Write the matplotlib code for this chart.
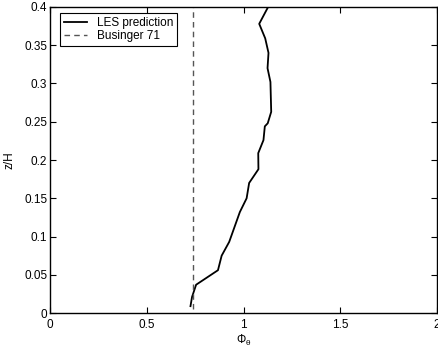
import numpy as np
import matplotlib.pyplot as plt

plt.rcParams['font.family'] = ['Liberation Sans', 'DejaVu Sans']
plt.rcParams['mathtext.fontset'] = 'custom'
plt.rcParams['mathtext.rm'] = 'Liberation Sans'
plt.rcParams['mathtext.it'] = 'Liberation Sans'

# LES profile
z_les = [0.009, 0.021, 0.037, 0.056, 0.075, 0.093, 0.132, 0.150, 0.170, 0.188,
         0.209, 0.226, 0.244, 0.248, 0.263, 0.302, 0.320, 0.340, 0.359, 0.378, 0.400]
phi_les = [0.726, 0.734, 0.755, 0.868, 0.887, 0.926, 0.981, 1.016, 1.029, 1.077,
           1.076, 1.103, 1.110, 1.125, 1.143, 1.139, 1.124, 1.129, 1.112, 1.081, 1.127]

# Businger 71 constant
phi_bus = 0.74
z_bus = [0.005, 0.4]

xticks = [0, 0.5, 1, 1.5, 2]
yticks = [0, 0.05, 0.1, 0.15, 0.2, 0.25, 0.3, 0.35, 0.4]

fig = plt.figure(figsize=(4.38, 3.49), dpi=100)
ax = fig.add_axes([0.114, 0.103, 0.884, 0.877])

ax.plot(phi_les, z_les, color='black', linewidth=1.3, label='LES prediction')
ax.plot([phi_bus, phi_bus], z_bus, color='#555555', linestyle='--', dashes=(4, 3),
        linewidth=1.0, label='Businger 71')

ax.set_xlim(0, 2)
ax.set_ylim(0, 0.4)
ax.set_xticks(xticks)
ax.set_xticklabels(['0', '0.5', '1', '1.5', '2'])
ax.set_yticks(yticks)
ax.set_yticklabels(['0', '0.05', '0.1', '0.15', '0.2', '0.25', '0.3', '0.35', '0.4'])
ax.tick_params(direction='in', length=4, width=0.8, labelsize=8.5,
               top=True, right=True)
ax.tick_params(axis='x', pad=4)
ax.tick_params(axis='y', pad=2)
for s in ax.spines.values():
    s.set_linewidth(1.0)

ax.set_xlabel(r'$\Phi_\theta$', fontsize=8.5, labelpad=2)
ax.set_ylabel('z/H', fontsize=8.5, labelpad=6)

leg = ax.legend(loc='upper left', bbox_to_anchor=(0.026, 0.98), borderaxespad=0,
                fontsize=8.5, fancybox=False, framealpha=1, edgecolor='black',
                handlelength=2.0, handletextpad=0.8, borderpad=0.3, labelspacing=0.15)
leg.get_frame().set_linewidth(0.8)

plt.savefig('out.png', dpi=100)
